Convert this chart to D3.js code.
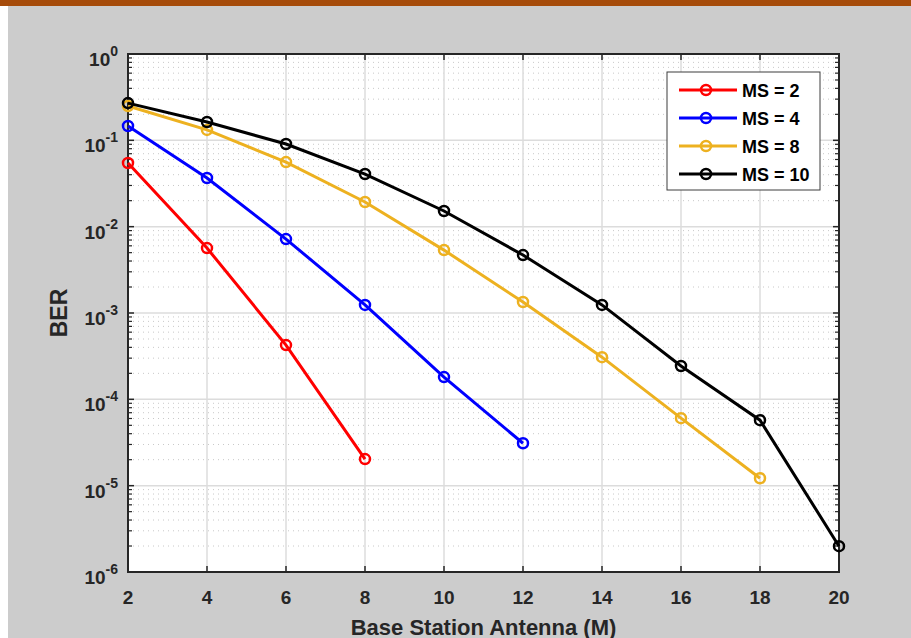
<!DOCTYPE html>
<html lang="en">
<head>
<meta charset="UTF-8">
<title>BER vs base station antennas</title>
<script src="https://d3js.org/d3.v7.min.js"></script>
<style>
  body { margin: 0; background: #fff; }
  svg text { font-family: "Liberation Sans", Arial, sans-serif; font-weight: bold; fill: #262626; }
</style>
</head>
<body>
<div id="chart"></div>
<script>
// data
var antennas = [2, 4, 6, 8, 10, 12, 14, 16, 18, 20];
var ms2  = [0.0546, 0.00565, 4.25e-4, 2.03e-5];
var ms4  = [0.1466, 0.0366, 0.00718, 1.24e-3, 1.81e-4, 3.1e-5];
var ms8  = [0.25, 0.132, 0.056, 0.0193, 0.00535, 1.34e-3, 3.08e-4, 6.05e-5, 1.22e-5];
var ms10 = [0.27, 0.163, 0.0906, 0.0407, 0.0152, 4.69e-3, 1.24e-3, 2.43e-4, 5.74e-5, 1.99e-6];
var seriesNames = ["MS = 2", "MS = 4", "MS = 8", "MS = 10"];
var seriesColors = ["#ff0000", "#0000ff", "#edb120", "#000000"];
var xTicks = [2, 4, 6, 8, 10, 12, 14, 16, 18, 20];
var yDecades = [-6, -5, -4, -3, -2, -1, 0];

var W = 911, H = 638;
var m = {left: 128, right: 839, top: 54, bottom: 572};

var svg = d3.select("#chart").append("svg").attr("width", W).attr("height", H);

// page background
svg.append("rect").attr("x", 0).attr("y", 0).attr("width", W).attr("height", H).attr("fill", "#fff");
svg.append("rect").attr("x", 8).attr("y", 6).attr("width", W - 8).attr("height", H - 6).attr("fill", "#cccccc");
svg.append("rect").attr("x", 0).attr("y", 0).attr("width", W).attr("height", 6).attr("fill", "#a64b0a");

var x = d3.scaleLinear().domain([2, 20]).range([m.left, m.right]);
var y = d3.scaleLog().domain([1e-6, 1]).range([m.bottom, m.top]);

svg.append("rect").attr("x", m.left).attr("y", m.top).attr("width", m.right - m.left).attr("height", m.bottom - m.top).attr("fill", "#fff");

// minor y values
var minors = [];
yDecades.slice(0, -1).forEach(function (d) {
    for (var k = 2; k <= 9; k++) minors.push(k * Math.pow(10, d));
});

var grid = svg.append("g");
grid.selectAll(".minor").data(minors).enter().append("line")
    .attr("x1", m.left).attr("x2", m.right)
    .attr("y1", function (d) { return y(d); }).attr("y2", function (d) { return y(d); })
    .attr("stroke", "#c8c8c8").attr("stroke-width", 1).attr("stroke-dasharray", "1,4");
grid.selectAll(".majy").data(yDecades).enter().append("line")
    .attr("x1", m.left).attr("x2", m.right)
    .attr("y1", function (d) { return y(Math.pow(10, d)); }).attr("y2", function (d) { return y(Math.pow(10, d)); })
    .attr("stroke", "#dcdcdc").attr("stroke-width", 1.5);
grid.selectAll(".majx").data(xTicks).enter().append("line")
    .attr("y1", m.top).attr("y2", m.bottom)
    .attr("x1", function (d) { return x(d); }).attr("x2", function (d) { return x(d); })
    .attr("stroke", "#dcdcdc").attr("stroke-width", 1.5);

// axes: ticks inside on all four sides
var axisColor = "#262626";
var ax = svg.append("g");
xTicks.forEach(function (t) {
    ax.append("line").attr("x1", x(t)).attr("x2", x(t)).attr("y1", m.bottom).attr("y2", m.bottom - 6).attr("stroke", axisColor).attr("stroke-width", 1.5);
    ax.append("line").attr("x1", x(t)).attr("x2", x(t)).attr("y1", m.top).attr("y2", m.top + 6).attr("stroke", axisColor).attr("stroke-width", 1.5);
    ax.append("text").attr("x", x(t)).attr("y", m.bottom + 32).attr("text-anchor", "middle").attr("font-size", 19).text(t);
});
yDecades.forEach(function (d) {
    var yy = y(Math.pow(10, d));
    ax.append("line").attr("x1", m.left).attr("x2", m.left + 6).attr("y1", yy).attr("y2", yy).attr("stroke", axisColor).attr("stroke-width", 1.5);
    ax.append("line").attr("x1", m.right).attr("x2", m.right - 6).attr("y1", yy).attr("y2", yy).attr("stroke", axisColor).attr("stroke-width", 1.5);
    var t = ax.append("text").attr("x", m.left - 10).attr("y", yy + 12).attr("text-anchor", "end").attr("font-size", 19);
    t.append("tspan").text("10");
    t.append("tspan").attr("dy", -10).attr("font-size", 14).text(d);
});
minors.forEach(function (v) {
    var yy = y(v);
    ax.append("line").attr("x1", m.left).attr("x2", m.left + 4).attr("y1", yy).attr("y2", yy).attr("stroke", axisColor).attr("stroke-width", 1.2);
    ax.append("line").attr("x1", m.right).attr("x2", m.right - 4).attr("y1", yy).attr("y2", yy).attr("stroke", axisColor).attr("stroke-width", 1.2);
});
ax.append("rect").attr("x", m.left).attr("y", m.top).attr("width", m.right - m.left).attr("height", m.bottom - m.top)
    .attr("fill", "none").attr("stroke", axisColor).attr("stroke-width", 2);

// labels
svg.append("text").attr("x", (m.left + m.right) / 2).attr("y", 635).attr("text-anchor", "middle").attr("font-size", 22).text("Base Station Antenna (M)");
svg.append("text").attr("transform", "translate(67," + ((m.top + m.bottom) / 2) + ") rotate(-90)")
    .attr("text-anchor", "middle").attr("font-size", 23).text("BER");

// series
var allSeries = [ms2, ms4, ms8, ms10];
var line = d3.line().x(function (d, i) { return x(antennas[i]); }).y(function (d) { return y(d); });
allSeries.forEach(function (s, k) {
    var g = svg.append("g");
    g.append("path").datum(s).attr("d", line).attr("fill", "none").attr("stroke", seriesColors[k]).attr("stroke-width", 3);
    g.selectAll("circle").data(s).enter().append("circle")
        .attr("cx", function (d, i) { return x(antennas[i]); })
        .attr("cy", function (d) { return y(d); })
        .attr("r", 5).attr("fill", "none").attr("stroke", seriesColors[k]).attr("stroke-width", 2.5);
});

// legend
var lg = svg.append("g").attr("transform", "translate(667,72)");
lg.append("rect").attr("width", 153).attr("height", 118).attr("fill", "#fff").attr("stroke", "#3c3c3c").attr("stroke-width", 1);
seriesNames.forEach(function (n, k) {
    var yy = 18 + k * 28;
    lg.append("line").attr("x1", 12).attr("x2", 70).attr("y1", yy).attr("y2", yy).attr("stroke", seriesColors[k]).attr("stroke-width", 3);
    lg.append("circle").attr("cx", 39).attr("cy", yy).attr("r", 5).attr("fill", "none").attr("stroke", seriesColors[k]).attr("stroke-width", 2.5);
    lg.append("text").attr("x", 75).attr("y", yy + 7).attr("font-size", 18).style("fill", "#000").text(n);
});
</script>
</body>
</html>
